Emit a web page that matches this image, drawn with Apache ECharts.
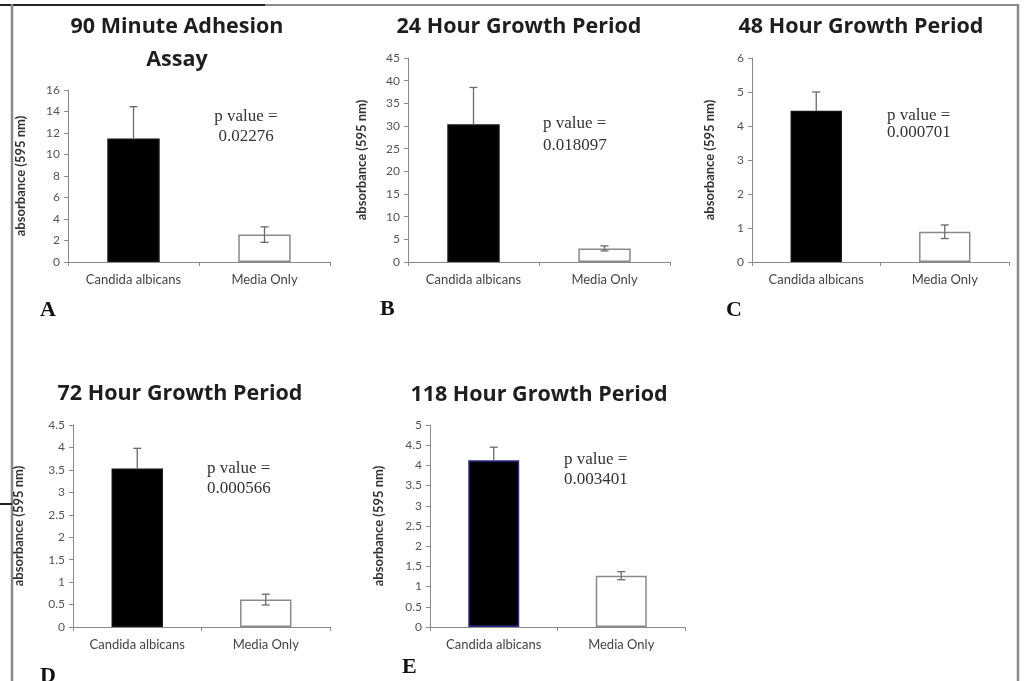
<!DOCTYPE html>
<html><head><meta charset="utf-8">
<script src="https://cdn.jsdelivr.net/npm/echarts@6/dist/echarts.min.js"></script>
<style>html,body{margin:0;padding:0;background:#fff}#c{width:1024px;height:681px}</style>
</head><body><div id="c"></div>
<script>
const categories = ['Candida albicans', 'Media Only'];
const panelTitles = ['90 Minute Adhesion\nAssay', '24 Hour Growth Period', '48 Hour Growth Period', '72 Hour Growth Period', '118 Hour Growth Period'];
const panelLetters = ['A', 'B', 'C', 'D', 'E'];
const pValues = ['0.02276', '0.018097', '0.000701', '0.000566', '0.003401'];
const valuesA = [11.5, 2.55];
const errorsA = [2.95, 0.72];
const valuesB = [30.4, 3.0];
const errorsB = [8.1, 0.55];
const valuesC = [4.45, 0.89];
const errorsC = [0.55, 0.2];
const valuesD = [3.53, 0.61];
const errorsD = [0.45, 0.12];
const valuesE = [4.13, 1.27];
const errorsE = [0.32, 0.1];
const yMax = [16, 45, 6, 4.5, 5];
const yStep = [2, 5, 1, 0.5, 0.5];

const values = [valuesA, valuesB, valuesC, valuesD, valuesE];
const errors = [errorsA, errorsB, errorsC, errorsD, errorsE];

// layout (styles/positions)
const grids = [
  {left: 68, top: 90, width: 262, height: 172},
  {left: 408, top: 58, width: 262, height: 204},
  {left: 752, top: 58, width: 257, height: 204},
  {left: 73, top: 425, width: 257, height: 202},
  {left: 430, top: 425, width: 255, height: 202}
];
const nameGaps = [41, 40, 36, 48, 45];
const titlePos = [[172, 5], [514, 5], [856, 5], [175, 372], [534, 373]];
const pPos = [[246, 127, 'center', 20], [543, 135, 'left', 22], [887, 124, 'left', 17], [207, 479, 'left', 20], [564, 470, 'left', 20]];
const letterPos = [[40, 310], [380, 309], [726, 310], [40, 676], [402, 667]];
const darkBorders = ['#111', '#111', '#111', '#111', '#2b2b8c'];
const lowerWhisker = [false, true];

const option = {
  animation: false,
  backgroundColor: '#fff',
  title: panelTitles.map((t, i) => ({
    text: t, left: titlePos[i][0], top: titlePos[i][1], textAlign: 'center',
    textStyle: {fontFamily: 'Open Sans', fontWeight: 'bold', fontSize: 21.5, color: '#1e1e1e', lineHeight: 33}
  })),
  grid: grids.map(g => Object.assign({containLabel: false}, g)),
  xAxis: grids.map((g, i) => ({
    type: 'category', gridIndex: i, data: categories,
    axisLine: {lineStyle: {color: '#8a8a8a', width: 1}},
    axisTick: {show: true, length: 4, lineStyle: {color: '#8a8a8a'}},
    axisLabel: {color: '#444', fontFamily: 'Lato', fontSize: 13, margin: 11}
  })),
  yAxis: grids.map((g, i) => ({
    type: 'value', gridIndex: i, min: 0, max: yMax[i], interval: yStep[i],
    name: 'absorbance (595 nm)', nameLocation: 'middle', nameGap: nameGaps[i],
    nameTextStyle: {fontFamily: 'Lato', fontWeight: 'bold', fontSize: 13, color: '#333'},
    axisLine: {show: true, lineStyle: {color: '#8a8a8a', width: 1}},
    axisTick: {show: true, length: 4, lineStyle: {color: '#8a8a8a'}},
    splitLine: {show: false},
    axisLabel: {color: '#555', fontFamily: 'Lato', fontSize: 12, margin: 8}
  })),
  series: [],
  graphic: []
};

values.forEach((vals, i) => {
  option.series.push({
    type: 'bar', xAxisIndex: i, yAxisIndex: i, barWidth: '40%',
    data: vals.map((v, j) => ({
      value: v,
      itemStyle: j === 0
        ? {color: '#000', borderColor: darkBorders[i], borderWidth: 1.5}
        : {color: '#fff', borderColor: '#8a8a8a', borderWidth: 1.5}
    }))
  });
  option.series.push({
    type: 'custom', xAxisIndex: i, yAxisIndex: i, z: 5,
    data: vals.map((v, j) => [j, v, errors[i][j]]),
    renderItem: function (params, api) {
      const j = api.value(0), v = api.value(1), e = api.value(2);
      const top = api.coord([j, v + e]);
      const mid = api.coord([j, v]);
      const bot = api.coord([j, v - e]);
      const cap = 4;
      const style = {stroke: '#6a6a6a', lineWidth: 1.3};
      const children = [
        {type: 'line', shape: {x1: top[0], y1: top[1], x2: mid[0], y2: mid[1]}, style},
        {type: 'line', shape: {x1: top[0] - cap, y1: top[1], x2: top[0] + cap, y2: top[1]}, style}
      ];
      if (lowerWhisker[j]) {
        children.push({type: 'line', shape: {x1: mid[0], y1: mid[1], x2: bot[0], y2: bot[1]}, style});
        children.push({type: 'line', shape: {x1: bot[0] - cap, y1: bot[1], x2: bot[0] + cap, y2: bot[1]}, style});
      }
      return {type: 'group', children};
    }
  });
  option.graphic.push({
    type: 'text', x: pPos[i][0], y: pPos[i][1],
    style: {text: 'p value =\n' + pValues[i], align: pPos[i][2], verticalAlign: 'middle',
      font: '17px "Liberation Serif"', fill: '#333', lineHeight: pPos[i][3]}
  });
  option.graphic.push({
    type: 'text', x: letterPos[i][0], y: letterPos[i][1],
    style: {text: panelLetters[i], align: 'left', verticalAlign: 'middle',
      font: 'bold 22px "Liberation Serif"', fill: '#111'}
  });
});

// frame lines
option.graphic.push(
  {type: 'line', shape: {x1: 0, y1: 5, x2: 265, y2: 5}, style: {stroke: '#222', lineWidth: 2}},
  {type: 'line', shape: {x1: 265, y1: 5, x2: 1019, y2: 5}, style: {stroke: '#8a8a8a', lineWidth: 2}},
  {type: 'line', shape: {x1: 12, y1: 4, x2: 12, y2: 681}, style: {stroke: '#8a8a8a', lineWidth: 2.5}},
  {type: 'line', shape: {x1: 1018, y1: 4, x2: 1018, y2: 681}, style: {stroke: '#8a8a8a', lineWidth: 2.5}},
  {type: 'line', shape: {x1: 0, y1: 504, x2: 12, y2: 504}, style: {stroke: '#222', lineWidth: 2}}
);

const chart = echarts.init(document.getElementById('c'), null, {renderer: 'canvas'});
chart.setOption(option);
</script>
</body></html>
